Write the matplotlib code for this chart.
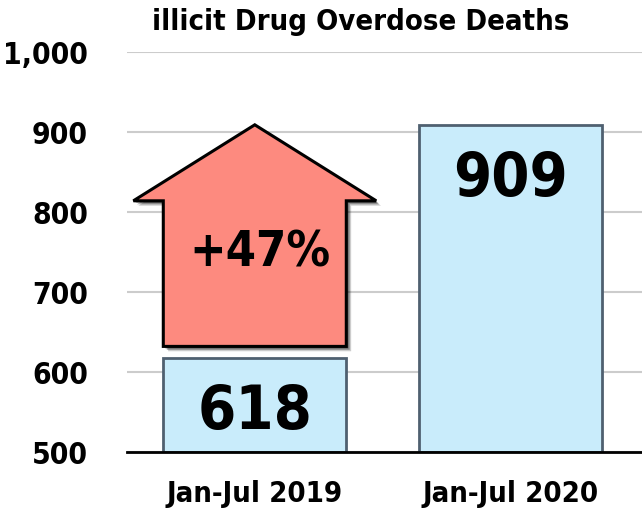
import numpy as np
import matplotlib.pyplot as plt
from matplotlib.patches import Polygon
import matplotlib.patheffects as pe

# data
periods = ['Jan-Jul 2019', 'Jan-Jul 2020']
deaths = [618, 909]
change_label = '+47%'
yticks = [500, 600, 700, 800, 900, 1000]
ytick_labels = ['500', '600', '700', '800', '900', '1,000']

FONT = dict(fontfamily='DejaVu Sans', fontweight='bold', fontstretch='condensed')
bar_face = '#c9ecfb'
bar_edge = '#4f6070'
arrow_face = '#fd8a7f'

fig = plt.figure(figsize=(6.42, 5.14), dpi=100)
ax = fig.add_axes([127 / 642, 62 / 514, 515 / 642, 400 / 514])

x = np.arange(len(periods))
width = 0.716
ax.bar(x, [d - 500 for d in deaths], bottom=500, width=width,
       color=bar_face, edgecolor=bar_edge, linewidth=2, zorder=2)

ax.set_xlim(-0.5, 1.515)
ax.set_ylim(500, 1000)
ax.set_yticks(yticks)
ax.set_yticklabels(ytick_labels, fontsize=21.5, **FONT)
ax.set_xticks(x)
ax.set_xticklabels(periods, fontsize=21, **FONT)
ax.tick_params(axis='both', length=0)
ax.tick_params(axis='y', pad=28)
ax.tick_params(axis='x', pad=20)
ax.grid(axis='y', color='#cccccc', linewidth=1.5, zorder=0)
ax.set_axisbelow(True)
for side in ['top', 'right', 'left']:
    ax.spines[side].set_visible(False)
ax.spines['bottom'].set_linewidth(2)
ax.spines['bottom'].set_zorder(3)

# up arrow from the 2019 bar to the 2020 level
x0 = x[0]
base = deaths[0] + 14
tip = deaths[1]
neck = tip - 95
shaft = width / 2
head = 0.475
pts = [(x0 - shaft, base), (x0 + shaft, base), (x0 + shaft, neck),
       (x0 + head, neck), (x0, tip), (x0 - head, neck), (x0 - shaft, neck)]
arrow = Polygon(pts, closed=True, facecolor=arrow_face, edgecolor='black',
                linewidth=2.2, zorder=4, clip_on=False)
arrow.set_path_effects([
    pe.SimplePatchShadow(offset=(3.5, -3.5), shadow_rgbFace='black', alpha=0.2),
    pe.SimplePatchShadow(offset=(2.5, -2.5), shadow_rgbFace='black', alpha=0.3),
    pe.SimplePatchShadow(offset=(1.5, -1.5), shadow_rgbFace='black', alpha=0.35),
    pe.Normal()])
ax.add_patch(arrow)

ax.text(x0 + 0.02, 749, change_label, ha='center', va='center',
        fontsize=35, zorder=5, **FONT)

for xi, d in zip(x, deaths):
    ax.text(xi, d - 68, str(d), ha='center', va='center',
            fontsize=44, zorder=5, **FONT)

fig.text(0.562, 0.957, 'illicit Drug Overdose Deaths', ha='center', va='center',
         fontsize=21, **FONT)

fig.savefig('out.png', dpi=100)
